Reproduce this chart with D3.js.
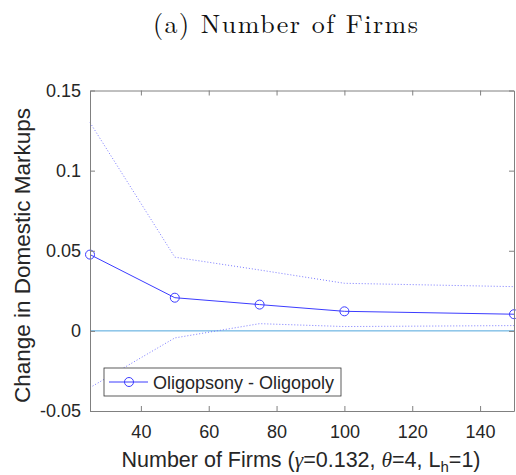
<!DOCTYPE html>
<html>
<head>
<meta charset="utf-8">
<script src="https://cdn.jsdelivr.net/npm/d3@7"></script>
<style>
  body { margin: 0; background: #fff; }
  text { font-family: Arial, "Liberation Sans", sans-serif; fill: #262626; }
  .title { font-family: "Latin Modern Roman", "Liberation Serif", serif; fill: #111; }
</style>
</head>
<body>
<div id="chart"></div>
<script>
var width = 516
var height = 475

// series
var firms = [25, 50, 75, 100, 150]
var diff = [0.0476, 0.0207, 0.0164, 0.0122, 0.0104]
var upper = [0.130, 0.046, 0.038, 0.0297, 0.0276]
var lower = [-0.0354, -0.0044, 0.0045, 0.0027, 0.0033]
var xTicks = [40, 60, 80, 100, 120, 140]
var yTicks = [-0.05, 0, 0.05, 0.1, 0.15]

var margin = {top: 90.5, right: 2, bottom: 64, left: 90}

var svg = d3.select('#chart').append('svg')
  .attr('width', width)
  .attr('height', height)

var x = d3.scaleLinear().domain([25, 150]).range([margin.left, width - margin.right])
var y = d3.scaleLinear().domain([-0.05, 0.15]).range([height - margin.bottom, margin.top])

svg.append('text')
  .attr('class', 'title')
  .attr('x', 285.5)
  .attr('y', 32.5)
  .attr('text-anchor', 'middle')
  .attr('textLength', 265)
  .attr('lengthAdjust', 'spacing')
  .style('font-size', '26px')
  .text('(a) Number of Firms')

// zero reference line
svg.append('line')
  .attr('x1', x(25)).attr('x2', x(150))
  .attr('y1', y(0)).attr('y2', y(0))
  .attr('stroke', '#4ea6dc')
  .attr('stroke-width', 1)

var line = d3.line()
  .x(function(d, i) { return x(firms[i]) })
  .y(function(d) { return y(d) })

svg.append('path')
  .attr('d', line(upper))
  .attr('fill', 'none')
  .attr('stroke', '#7a7aff')
  .attr('stroke-width', 1)
  .attr('stroke-dasharray', '1,2')

svg.append('path')
  .attr('d', line(lower))
  .attr('fill', 'none')
  .attr('stroke', '#7a7aff')
  .attr('stroke-width', 1)
  .attr('stroke-dasharray', '1,2')

svg.append('path')
  .attr('d', line(diff))
  .attr('fill', 'none')
  .attr('stroke', '#3c3cff')
  .attr('stroke-width', 1)

svg.selectAll('circle.pt')
  .data(diff)
  .enter()
  .append('circle')
  .attr('class', 'pt')
  .attr('cx', function(d, i) { return x(firms[i]) })
  .attr('cy', function(d) { return y(d) })
  .attr('r', 4.5)
  .attr('fill', 'none')
  .attr('stroke', '#3c3cff')
  .attr('stroke-width', 1)

// axes: inner ticks, mirrored on top/right
svg.append('g')
  .attr('transform', 'translate(0,' + y.range()[0] + ')')
  .call(d3.axisBottom(x).tickValues(xTicks).tickSizeInner(-5).tickSizeOuter(0).tickPadding(14))
svg.append('g')
  .attr('transform', 'translate(0,' + y.range()[1] + ')')
  .call(d3.axisTop(x).tickValues(xTicks).tickSizeInner(-5).tickSizeOuter(0).tickFormat(''))
svg.append('g')
  .attr('transform', 'translate(' + x.range()[0] + ',0)')
  .call(d3.axisLeft(y).tickValues(yTicks).tickSizeInner(-5).tickSizeOuter(0).tickPadding(9)
    .tickFormat(function(d) { return String(+d.toFixed(2)) }))
svg.append('g')
  .attr('transform', 'translate(' + x.range()[1] + ',0)')
  .call(d3.axisRight(y).tickValues(yTicks).tickSizeInner(-5).tickSizeOuter(0).tickFormat(''))

svg.selectAll('.domain, .tick line').attr('stroke', '#808080')
svg.selectAll('.tick text')
  .style('font-size', '18px')
  .style('font-family', 'Arial, "Liberation Sans", sans-serif')
  .attr('fill', '#262626')

// axis labels
var xl = svg.append('text')
  .attr('x', 301)
  .attr('y', 466.5)
  .attr('text-anchor', 'middle')
  .style('font-size', '21.5px')
xl.append('tspan').text('Number of Firms (')
xl.append('tspan').style('font-style', 'italic').style('font-family', '"Liberation Serif", serif').text('γ')
xl.append('tspan').text('=0.132, ')
xl.append('tspan').style('font-style', 'italic').style('font-family', '"Liberation Serif", serif').text('θ')
xl.append('tspan').text('=4, L')
xl.append('tspan').attr('dy', 5).style('font-size', '15px').text('h')
xl.append('tspan').attr('dy', -5).text('=1)')

svg.append('text')
  .attr('transform', 'translate(29.5,255.5) rotate(-90)')
  .attr('text-anchor', 'middle')
  .style('font-size', '22.5px')
  .text('Change in Domestic Markups')

// legend
var lg = svg.append('g').attr('transform', 'translate(104,368)')
lg.append('rect')
  .attr('width', 237).attr('height', 28)
  .attr('fill', '#fff')
  .attr('stroke', '#333')
  .attr('stroke-width', 0.8)
lg.append('line')
  .attr('x1', 5).attr('x2', 44).attr('y1', 14).attr('y2', 14)
  .attr('stroke', '#3c3cff')
lg.append('circle')
  .attr('cx', 25).attr('cy', 14).attr('r', 4.5)
  .attr('fill', 'none').attr('stroke', '#3c3cff')
lg.append('text')
  .attr('x', 49).attr('y', 20.5)
  .style('font-size', '18px')
  .attr('fill', '#111')
  .text('Oligopsony - Oligopoly')
</script>
</body>
</html>
